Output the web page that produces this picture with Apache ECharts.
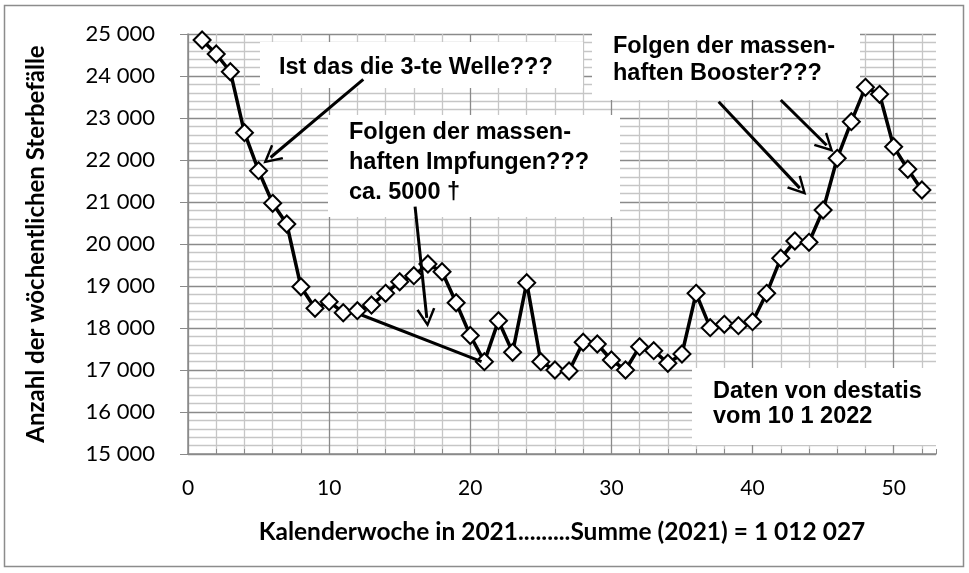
<!DOCTYPE html>
<html>
<head>
<meta charset="utf-8">
<script src="https://cdn.jsdelivr.net/npm/echarts@6/dist/echarts.min.js"></script>
<style>
html,body{margin:0;padding:0;background:#fff;}
#chart{width:969px;height:573px;}
</style>
</head>
<body>
<div id="chart"></div>
<script>
// Kalenderwoche 2021
const weeks = [1,2,3,4,5,6,7,8,9,10,11,12,13,14,15,16,17,18,19,20,21,22,23,24,25,26,27,28,29,30,31,32,33,34,35,36,37,38,39,40,41,42,43,44,45,46,47,48,49,50,51,52];
// wöchentliche Sterbefälle
const deaths = [24857,24524,24102,22650,21745,20969,20476,18983,18469,18626,18364,18412,18548,18826,19102,19245,19524,19340,18602,17821,17198,18174,17421,19079,17198,17000,16976,17660,17619,17238,17000,17555,17460,17160,17381,18826,18007,18088,18055,18150,18826,19660,20071,20040,20810,22040,22912,23731,23564,22317,21779,21286];
const yTicks = [15000,16000,17000,18000,19000,20000,21000,22000,23000,24000,25000];
const xTicks = [0,10,20,30,40,50];

// annotation arrows in data coordinates [from, to, withHead]
const arrows = [
  [[12.42, 23921], [5.85, 22060], true],
  [[16.09, 20888], [16.92, 18240], true],
  [[12.3, 18310], [20.8, 17197], false],
  [[42.0, 23429], [45.25, 22350], true],
  [[37.6, 23388], [43.35, 21330], true]
];

const chevron = 'path://M10,0 L20,19 L17.6,20 L10,5.5 L2.4,20 L0,19 Z';

const chart = echarts.init(document.getElementById('chart'), null, {renderer:'canvas'});
const axisFont = 'Lato';
const noteFont = 'Liberation Sans';
const major = '#8a8a8a', minor = '#c6c6c6';
const noteStyle = {fontFamily: noteFont, fontWeight: 'bold', fontSize: 23.5, fill: '#000', verticalAlign: 'top'};

const option = {
  animation: false,
  backgroundColor: '#fff',
  grid: {left: 188, right: 33, top: 34, bottom: 119, containLabel: false},
  xAxis: {
    type: 'value', min: 0, max: 53, interval: 2,
    name: 'Kalenderwoche in 2021.........Summe (2021) = 1 012 027',
    nameLocation: 'middle', nameGap: 66,
    nameTextStyle: {fontFamily: axisFont, fontWeight: 'bold', fontSize: 24.5, color: '#000'},
    axisLine: {show: true, lineStyle: {color: major, width: 1.5}},
    axisTick: {show: true, inside: true, length: 5, lineStyle: {color: major}},
    axisLabel: {
      margin: 24, fontFamily: axisFont, fontSize: 21, color: '#000',
      formatter: v => xTicks.indexOf(v) >= 0 ? String(v) : ''
    },
    splitLine: {show: true, showMaxLine: false, lineStyle: {color: [major, minor, minor, minor, minor], width: 1.3}}
  },
  yAxis: {
    type: 'value', min: 15000, max: 25000, interval: 1000,
    name: 'Anzahl der wöchentlichen Sterbefälle',
    nameLocation: 'middle', nameGap: 140, nameRotate: 90,
    nameTextStyle: {fontFamily: axisFont, fontWeight: 'bold', fontSize: 24, color: '#000'},
    axisLine: {show: true, lineStyle: {color: major, width: 1.5}},
    axisTick: {show: true, inside: false, length: 8, lineStyle: {color: major}},
    axisLabel: {
      margin: 33, fontFamily: axisFont, fontSize: 22, color: '#000',
      formatter: v => yTicks.indexOf(v) >= 0 ? String(v).replace(/\B(?=(\d{3})+(?!\d))/g, ' ') : ''
    },
    splitLine: {show: true, lineStyle: {color: major, width: 1.3}},
    minorTick: {show: false, splitNumber: 5},
    minorSplitLine: {show: true, lineStyle: {color: minor, width: 1.3}}
  },
  series: [{
    type: 'line',
    data: weeks.map((w, i) => [w, deaths[i]]),
    symbol: 'diamond', symbolSize: 17,
    lineStyle: {color: '#000', width: 3.5},
    itemStyle: {color: '#fff', borderColor: '#000', borderWidth: 2},
    z: 3,
    markLine: {
      silent: true, animation: false, z: 4,
      lineStyle: {color: '#000', width: 3, type: 'solid'},
      label: {show: false},
      emphasis: {disabled: true},
      data: arrows.map(a => [
        {coord: a[0], symbol: 'none'},
        {coord: a[1], symbol: a[2] ? chevron : 'none', symbolSize: [19, 19]}
      ])
    }
  }],
  graphic: [
    {type: 'rect', z: 1, shape: {x: 4.5, y: 5.5, width: 959, height: 561}, style: {fill: null, stroke: '#8c8c8c', lineWidth: 1.5}},
    {type: 'rect', z: 1, shape: {x: 260, y: 42, width: 323, height: 46}, style: {fill: '#fff'}},
    {type: 'rect', z: 1, shape: {x: 328, y: 115, width: 292, height: 102}, style: {fill: '#fff'}},
    {type: 'rect', z: 1, shape: {x: 592, y: 30, width: 268, height: 70}, style: {fill: '#fff'}},
    {type: 'rect', z: 1, shape: {x: 692, y: 368, width: 246, height: 77}, style: {fill: '#fff'}},
    {type: 'text', z: 2, x: 279, y: 54, style: Object.assign({text: 'Ist das die 3-te Welle???', lineHeight: 28}, noteStyle)},
    {type: 'text', z: 2, x: 349, y: 118, style: Object.assign({text: 'Folgen der massen-\nhaften Impfungen???\nca. 5000 †', lineHeight: 30}, noteStyle)},
    {type: 'text', z: 2, x: 613, y: 33, style: Object.assign({text: 'Folgen der massen-\nhaften Booster???', lineHeight: 27}, noteStyle)},
    {type: 'text', z: 2, x: 713, y: 379, style: Object.assign({text: 'Daten von destatis\nvom 10 1 2022', lineHeight: 25}, noteStyle)}
  ]
};
chart.setOption(option);
</script>
</body>
</html>
